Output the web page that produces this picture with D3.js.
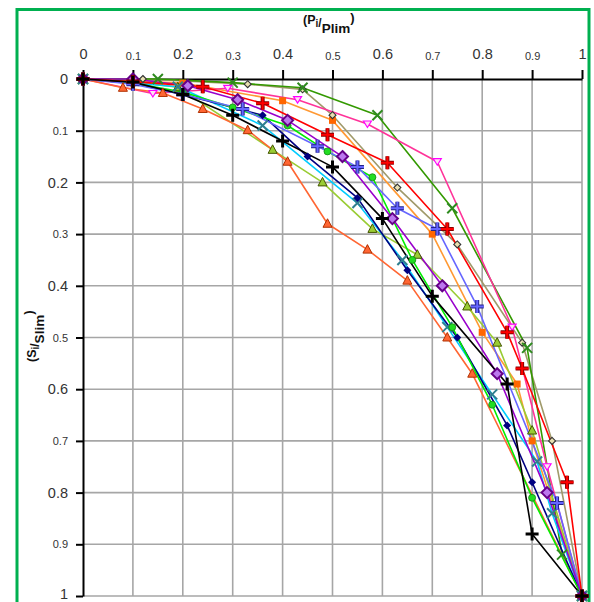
<!DOCTYPE html>
<html>
<head>
<meta charset="utf-8">
<script src="https://cdn.jsdelivr.net/npm/d3@7"></script>
<style>
  body { margin: 0; background: #fff; }
  text { font-family: "Liberation Sans", Arial, sans-serif; }
</style>
</head>
<body>
<svg id="chart"></svg>
<script>
// DATA (Pi/Plim, Si/Slim)
const tickValues = [0, 0.1, 0.2, 0.3, 0.4, 0.5, 0.6, 0.7, 0.8, 0.9, 1];
const tickLabels = ["0", "0.1", "0.2", "0.3", "0.4", "0.5", "0.6", "0.7", "0.8", "0.9", "1"];

const sOrange = [[0,0],[0.2,0.008],[0.4,0.042],[0.5,0.08],[0.7,0.3],[0.8,0.49],[0.87,0.59],[0.9,0.7],[1,1]];
const sTan = [[0,0],[0.12,0],[0.33,0.01],[0.44,0.02],[0.5,0.07],[0.63,0.21],[0.75,0.32],[0.88,0.51],[0.94,0.7],[1,1]];
const sDarkGreen = [[0,0],[0.15,0],[0.3,0.007],[0.44,0.017],[0.59,0.07],[0.74,0.25],[0.89,0.52],[0.96,0.92],[1,1]];
const sPink = [[0,0],[0.14,0.028],[0.29,0.018],[0.43,0.04],[0.57,0.087],[0.71,0.16],[0.86,0.48],[0.93,0.75],[1,1]];
const sYellowGreen = [[0,0],[0.1,0.005],[0.19,0.016],[0.38,0.137],[0.48,0.2],[0.58,0.29],[0.67,0.34],[0.77,0.44],[0.83,0.51],[0.9,0.68],[1,1]];
const sOrangeRed = [[0,0],[0.08,0.017],[0.16,0.027],[0.24,0.058],[0.33,0.099],[0.41,0.16],[0.49,0.28],[0.57,0.33],[0.65,0.39],[0.73,0.5],[0.78,0.57],[1,1]];
const sCyan = [[0,0],[0.19,0.015],[0.36,0.09],[0.55,0.24],[0.64,0.35],[0.73,0.48],[0.82,0.61],[0.91,0.74],[0.94,0.84],[1,1]];
const sNavy = [[0,0],[0.1,0.008],[0.2,0.03],[0.36,0.07],[0.45,0.15],[0.55,0.23],[0.65,0.37],[0.75,0.5],[0.85,0.67],[0.9,0.78],[1,1]];
const sGreen = [[0,0],[0.1,0.008],[0.2,0.025],[0.3,0.055],[0.41,0.09],[0.49,0.14],[0.58,0.19],[0.66,0.35],[0.74,0.48],[0.82,0.63],[0.9,0.81],[1,1]];
const sBlue = [[0,0],[0.1,0.01],[0.2,0.03],[0.32,0.058],[0.47,0.13],[0.55,0.17],[0.63,0.25],[0.71,0.29],[0.79,0.44],[0.95,0.82],[1,1]];
const sPurple = [[0,0],[0.1,0],[0.21,0.013],[0.31,0.04],[0.41,0.08],[0.52,0.15],[0.62,0.27],[0.72,0.4],[0.83,0.57],[0.93,0.8],[1,1]];
const sRed = [[0,0],[0.1,0.005],[0.24,0.015],[0.36,0.047],[0.49,0.108],[0.61,0.162],[0.73,0.29],[0.85,0.49],[0.88,0.56],[0.97,0.78],[1,1]];
const sBlack = [[0,0],[0.1,0.006],[0.2,0.03],[0.3,0.07],[0.4,0.12],[0.5,0.17],[0.6,0.27],[0.7,0.42],[0.85,0.59],[0.9,0.88],[1,1]];

// SERIES STYLES
const series = [
  {data: sOrange, color: "#FF9933", marker: "square", fill: "#FF6600", stroke: "#FF6600"},
  {data: sTan, color: "#A09A6A", marker: "diamondSmall", fill: "#E8E0B0", stroke: "#333"},
  {data: sDarkGreen, color: "#339900", marker: "cross", fill: "none", stroke: "#2E8B1E"},
  {data: sPink, color: "#FF3399", marker: "triDown", fill: "#FFE0F0", stroke: "#FF00FF"},
  {data: sYellowGreen, color: "#99CC33", marker: "triUp", fill: "#99CC33", stroke: "#445500"},
  {data: sOrangeRed, color: "#FF6633", marker: "triUp", fill: "#FF6633", stroke: "#B03000"},
  {data: sCyan, color: "#00CCFF", marker: "cross", fill: "none", stroke: "#2F7F8F"},
  {data: sNavy, color: "#000080", marker: "diamondFill", fill: "#000080", stroke: "#000080"},
  {data: sGreen, color: "#00EE00", marker: "circle", fill: "#22DD22", stroke: "#118811"},
  {data: sBlue, color: "#6666FF", marker: "plus", fill: "#6666FF", stroke: "#222288"},
  {data: sPurple, color: "#9900CC", marker: "diamond", fill: "#BB77EE", stroke: "#660088"},
  {data: sRed, color: "#FF0000", marker: "plus", fill: "#FF0000", stroke: "#880000"},
  {data: sBlack, color: "#000000", marker: "plus", fill: "#000000", stroke: "#000000"}
];

const _width = 594, _height = 602;
const svg = d3.select("#chart").attr("width", _width).attr("height", _height);

const x = d3.scaleLinear().domain([0, 1]).range([83, 582]);
const y = d3.scaleLinear().domain([0, 1]).range([79, 596]);

// FRAME
svg.append("rect")
    .attr("x", 17).attr("y", 9.5)
    .attr("width", 572).attr("height", 640)
    .attr("fill", "#fff")
    .attr("stroke", "#00B050")
    .attr("stroke-width", 3);

// GRID
const grid = svg.append("g").attr("stroke", "#A6A6A6").attr("stroke-width", 1.6);
grid.selectAll("line.v")
    .data(tickValues.slice(1))
    .enter().append("line")
      .attr("x1", d => x(d)).attr("x2", d => x(d))
      .attr("y1", y(0)).attr("y2", y(1));
grid.selectAll("line.h")
    .data(tickValues.slice(1))
    .enter().append("line")
      .attr("x1", x(0)).attr("x2", x(1))
      .attr("y1", d => y(d)).attr("y2", d => y(d));

// AXES
const bigLabel = i => i % 2 === 0;
const xAxis = svg.append("g")
    .attr("transform", `translate(0, ${y(0)})`)
    .call(d3.axisTop(x).tickValues(tickValues).tickSize(9).tickSizeOuter(0).tickPadding(11)
            .tickFormat((d, i) => tickLabels[i]));
xAxis.selectAll("text")
    .attr("font-size", (d, i) => bigLabel(i) ? 14.5 : 11)
    .attr("dy", (d, i) => bigLabel(i) ? "0" : "1")
    .attr("fill", "#333");

const yAxis = svg.append("g")
    .attr("transform", `translate(${x(0)}, 0)`)
    .call(d3.axisLeft(y).tickValues(tickValues).tickSize(7).tickSizeOuter(0).tickPadding(8)
            .tickFormat((d, i) => tickLabels[i]));
yAxis.selectAll("text")
    .attr("font-size", (d, i) => bigLabel(i) ? 14.5 : 11)
    .attr("dy", (d, i) => i === tickValues.length - 1 ? "0.2em" : "0.32em")
    .attr("fill", "#333");

svg.selectAll(".domain, .tick line").attr("stroke", "#000").attr("stroke-width", 2);

// AXIS TITLES
const xTitle = svg.append("text")
    .attr("x", 303).attr("y", 24)
    .attr("font-weight", "bold").attr("font-size", 12.5).attr("fill", "#111");
xTitle.append("tspan").text("(P");
xTitle.append("tspan").attr("dy", 3).attr("font-size", 10).text("i");
xTitle.append("tspan").attr("font-size", 12).text("/");
xTitle.append("tspan").attr("dy", 6).attr("font-size", 13.5).text("Plim");
xTitle.append("tspan").attr("dy", -11).attr("font-size", 13).text(")");

const yTitle = svg.append("text")
    .attr("transform", "translate(36, 362) rotate(-90)")
    .attr("font-weight", "bold").attr("font-size", 12.5).attr("fill", "#111");
yTitle.append("tspan").text("(S");
yTitle.append("tspan").attr("dy", 3).attr("font-size", 10).text("i");
yTitle.append("tspan").attr("font-size", 12).text("/");
yTitle.append("tspan").attr("dy", 5).attr("font-size", 13.5).text("Slim");
yTitle.append("tspan").attr("dy", -11).attr("font-size", 13).text(")");

// LINES
const line = d3.line().x(d => x(d[0])).y(d => y(d[1]));
svg.append("g").selectAll("path")
    .data(series)
    .enter().append("path")
      .attr("d", d => line(d.data))
      .attr("fill", "none")
      .attr("stroke", d => d.color)
      .attr("stroke-width", 1.6)
      .attr("stroke-linejoin", "round");

// MARKERS
function drawMarker(g, s) {
  if (s.marker === "plus") {
    const p = "M-6.5,0H6.5M0,-6.5V6.5";
    if (s.color !== "#000000") g.append("path").attr("d", p).attr("stroke", s.stroke).attr("stroke-width", 4);
    g.append("path").attr("d", p).attr("stroke", s.fill).attr("stroke-width", s.color === "#000000" ? 3 : 2);
  } else if (s.marker === "cross") {
    g.append("path").attr("d", "M-5,-5L5,5M-5,5L5,-5")
      .attr("stroke", s.stroke).attr("stroke-width", 2);
  } else if (s.marker === "triUp") {
    g.append("path").attr("d", "M0,-5L4.5,3.5L-4.5,3.5Z").attr("fill", s.fill).attr("stroke", s.stroke).attr("stroke-width", 1);
  } else if (s.marker === "triDown") {
    g.append("path").attr("d", "M-4,-3L4,-3L0,3.5Z").attr("fill", s.fill).attr("stroke", s.stroke).attr("stroke-width", 1.2);
  } else if (s.marker === "square") {
    g.append("rect").attr("x", -3.5).attr("y", -3.5).attr("width", 7).attr("height", 7).attr("fill", s.fill);
  } else if (s.marker === "circle") {
    g.append("circle").attr("r", 3.5).attr("fill", s.fill).attr("stroke", s.stroke).attr("stroke-width", 0.8);
  } else if (s.marker === "diamond") {
    g.append("path").attr("d", "M0,-5.5L5.5,0L0,5.5L-5.5,0Z").attr("fill", s.fill).attr("stroke", s.stroke).attr("stroke-width", 2);
  } else if (s.marker === "diamondSmall") {
    g.append("path").attr("d", "M0,-3.5L3.5,0L0,3.5L-3.5,0Z").attr("fill", s.fill).attr("stroke", s.stroke).attr("stroke-width", 1.1);
  } else if (s.marker === "diamondFill") {
    g.append("path").attr("d", "M0,-4L4,0L0,4L-4,0Z").attr("fill", s.fill);
  }
}

series.forEach(s => {
  const pts = svg.append("g").selectAll("g")
      .data(s.data)
      .enter().append("g")
        .attr("transform", d => `translate(${x(d[0])}, ${y(d[1])})`);
  pts.each(function() { drawMarker(d3.select(this), s); });
});
</script>
</body>
</html>
